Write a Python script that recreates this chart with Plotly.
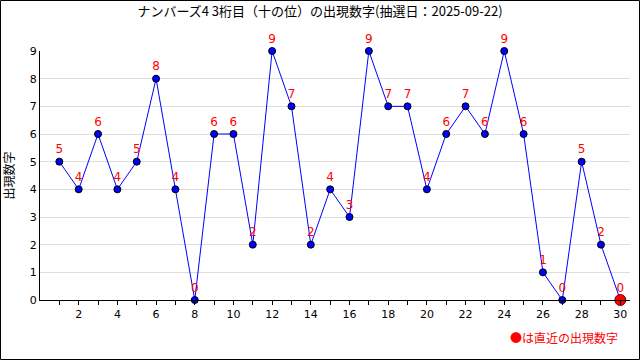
import plotly.graph_objects as go

draws = list(range(1, 31))
values = [5, 4, 6, 4, 5, 8, 4, 0, 6, 6, 2, 9, 7, 2, 4, 3, 9, 7, 7, 4, 6, 7, 6, 9, 6, 1, 0, 5, 2, 0]
x_tick_vals = list(range(2, 31, 2))
y_tick_vals = list(range(0, 10))
title_text = "ナンバーズ4 3桁目（十の位）の出現数字(抽選日：2025-09-22)"
y_title = "出現数字"
legend_note = "●は直近の出現数字"

font_jp = "Noto Sans CJK JP"

fig = go.Figure()
fig.add_trace(go.Scatter(
    x=draws, y=values, mode="lines+markers+text",
    line=dict(color="#0000ff", width=1),
    marker=dict(size=7, color="#0000ff", line=dict(color="#000000", width=1)),
    text=[str(v) for v in values], textposition="top center",
    textfont=dict(color="#ff0000", size=12, family="DejaVu Sans"),
    cliponaxis=False, showlegend=False, hoverinfo="skip",
))
fig.add_trace(go.Scatter(
    x=[draws[-1]], y=[values[-1]], mode="markers",
    marker=dict(size=11, color="#ff0000", line=dict(color="#800000", width=1)),
    cliponaxis=False, showlegend=False, hoverinfo="skip",
))

W, H = 640, 360
L, R, T, B = 40, 10, 51, 60
pw, ph = W - L - R, H - T - B

fig.update_layout(
    width=W, height=H,
    margin=dict(l=L, r=R, t=T, b=B),
    paper_bgcolor="white", plot_bgcolor="white",
    font=dict(family="DejaVu Sans", size=11, color="#000000"),
    title=dict(text=title_text, x=0.5, xanchor="center", y=1 - 11 / H, yanchor="middle",
               font=dict(family=font_jp, size=13, color="#000000")),
    xaxis=dict(range=[0, 30.5], tickvals=x_tick_vals, showgrid=False, zeroline=False,
               showline=True, linecolor="#000000", linewidth=1,
               ticks="outside", ticklen=4, tickcolor="#000000",
               minor=dict(tickvals=list(range(1, 31, 2)), ticks="outside", ticklen=4, tickcolor="#000000"),
               tickfont=dict(size=11)),
    yaxis=dict(range=[0, 9], tickvals=y_tick_vals, showgrid=True, gridcolor="#dddddd",
               zeroline=False, showline=True, linecolor="#000000", linewidth=1,
               ticks="", tickfont=dict(size=11),
               title=dict(text=y_title, font=dict(family=font_jp, size=12), standoff=12)),
    shapes=[dict(type="rect", xref="paper", yref="paper",
                 x0=(0.5 - L) / pw, x1=(W - 0.5 - L) / pw,
                 y0=(T + ph - (H - 0.5)) / ph, y1=(T + ph - 0.5) / ph,
                 line=dict(color="#000000", width=1), fillcolor="rgba(0,0,0,0)")],
    annotations=[dict(text=legend_note, xref="paper", yref="paper",
                      x=(620 - L) / pw, y=-(337 - T - ph) / ph, xanchor="right", yanchor="middle",
                      showarrow=False, font=dict(family=font_jp, size=12, color="#ff0000"))],
)

fig.write_html("out.html", config={"displayModeBar": False},
               post_script="document.body.style.margin='0';")
